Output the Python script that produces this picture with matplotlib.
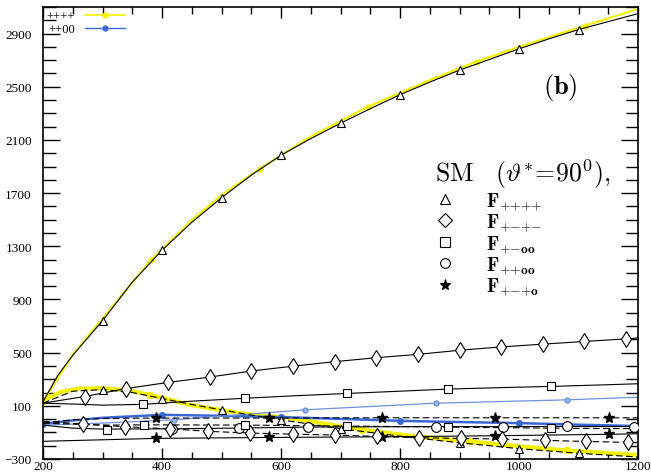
# SM helicity amplitudes F vs energy, two sets (solid / dashed) + two yellow/blue overlays
import matplotlib
matplotlib.use("Agg")
import matplotlib.pyplot as plt
from matplotlib.lines import Line2D
from matplotlib.ticker import MultipleLocator

plt.rcParams['font.family'] = ['Liberation Serif', 'DejaVu Serif']
plt.rcParams['mathtext.fontset'] = 'cm'

# ---- data ----
# solid black, triangles (F++++)
tri_x = [200, 225, 250, 300, 350, 400, 450, 500, 550, 600, 650, 700, 750, 800, 850, 900, 950, 1000, 1050, 1100, 1150, 1200]
tri_y = [130, 330, 480, 740, 1030, 1270, 1480, 1665, 1835, 1985, 2110, 2225, 2335, 2440, 2535, 2625, 2705, 2785, 2860, 2930, 2990, 3050]
tri_mx = [300, 400, 500, 600, 700, 800, 900, 1000, 1100]
tri_my = [740, 1270, 1665, 1985, 2225, 2440, 2625, 2785, 2930]

# dashed black, triangles (falling)
trid_x = [200, 250, 300, 350, 400, 450, 500, 550, 600, 700, 800, 900, 1000, 1100, 1200]
trid_y = [120, 210, 222, 200, 155, 110, 70, 30, -5, -72, -128, -178, -222, -257, -285]
trid_mx = [300, 400, 500, 600, 700, 900, 1000, 1100]
trid_my = [222, 155, 70, -5, -72, -178, -222, -257]

# solid black, diamonds
dia_x = [200, 270, 340, 410, 480, 550, 620, 690, 760, 830, 900, 970, 1040, 1110, 1180, 1200]
dia_y = [120, 170, 230, 276, 316, 362, 398, 432, 462, 487, 518, 543, 564, 584, 604, 610]

# dashed black, diamonds
diad_x = [200, 268, 338, 414, 478, 548, 620, 691, 761, 832, 902, 972, 1043, 1113, 1184, 1200]
diad_y = [-15, -38, -57, -73, -92, -105, -113, -120, -130, -140, -145, -150, -160, -168, -175, -178]

# solid black, squares
sq_x = [200, 260, 300, 368, 450, 540, 620, 711, 800, 881, 970, 1053, 1130, 1200]
sq_y = [120, 112, 105, 111, 135, 157, 175, 193, 210, 226, 237, 246, 256, 266]
sq_mx = [368, 540, 711, 881, 1053]
sq_my = [111, 157, 193, 226, 246]

# dashed black, squares
sqd_x = [200, 308, 369, 540, 711, 881, 1053, 1200]
sqd_y = [-30, -45, -43, -45, -52, -60, -68, -72]
sqd_mx = [308, 369, 540, 711, 881, 1053]
sqd_my = [-80, -43, -45, -52, -60, -68]

# solid black, circles
cir_x = [200, 250, 300, 417, 530, 646, 750, 861, 973, 1081, 1193, 1200]
cir_y = [-45, -68, -75, -73, -67, -60, -58, -56, -57, -55, -56, -57]
cir_mx = [417, 530, 646, 861, 973, 1081, 1193]
cir_my = [-73, -67, -60, -56, -57, -55, -56]

# dashed black, stars
std_x = [200, 250, 300, 390, 580, 770, 960, 1151, 1200]
std_y = [-30, -5, 5, 8, 8, 10, 10, 10, 10]
std_mx = [390, 580, 770, 960, 1151]
std_my = [8, 8, 10, 10, 10]

# solid black, stars
st_x = [200, 390, 580, 770, 960, 1151, 1200]
st_y = [-167, -145, -138, -133, -125, -114, -110]
st_mx = [390, 580, 770, 960, 1151]
st_my = [-145, -138, -133, -125, -114]

# yellow ++++ (rising and falling)
yel_x = [200, 250, 300, 381, 450, 500, 565, 650, 746, 850, 929, 1000, 1111, 1200]
yel_y = [135, 485, 755, 1195, 1495, 1685, 1885, 2125, 2350, 2550, 2690, 2800, 2960, 3085]
yel_mx = [200, 381, 565, 746, 929, 1111]
yel_my = [135, 1195, 1885, 2350, 2690, 2960]
yeld_x = [200, 230, 260, 300, 340, 380, 447, 531, 615, 699, 736, 826, 917, 1001, 1081, 1200]
yeld_y = [140, 205, 230, 232, 218, 182, 107, 45, 8, -52, -79, -130, -168, -205, -236, -270]
yeld_mx = [200, 380, 736, 917, 1081]
yeld_my = [140, 182, -79, -168, -236]

# blue ++00 (thick and thin)
blu_x = [200, 250, 300, 400, 500, 600, 700, 800, 900, 1000, 1100, 1200]
blu_y = [-35, -10, 10, 32, 25, 15, 2, -13, -22, -30, -42, -52]
blu_mx = [200, 400, 600, 800, 1000, 1200]
blu_my = [-35, 32, 15, -13, -30, -52]
blt_x = [200, 300, 420, 640, 861, 1081, 1200]
blt_y = [-45, -30, -5, 70, 120, 145, 165]
blt_mx = [420, 640, 861, 1081]
blt_my = [-5, 70, 120, 145]

top_labels = ['++++', '++00']
sm_title = r'$\mathrm{SM}\ \ \ (\vartheta^{*}\!=\!90^{0}),$'
sm_labels = [r'$\mathbf{F}_{{+}{+}{+}{+}}$', r'$\mathbf{F}_{{+}{-}{+}{-}}$',
             r'$\mathbf{F}_{{+}{-}\mathbf{oo}}$', r'$\mathbf{F}_{{+}{+}\mathbf{oo}}$',
             r'$\mathbf{F}_{{+}{-}{+}\mathbf{o}}$']
sm_markers = ['^', 'D', 's', 'o', '*']

YEL = '#f2f200'
BLUE = '#3a66d6'
BLUE_T = '#6f8fe0'

fig = plt.figure(figsize=(6.51, 4.77), dpi=100)
ax = fig.add_axes([43 / 651, 17 / 477, 595 / 651, 452 / 477])

# yellow / blue overlays
ax.plot(yel_x, yel_y, color=YEL, lw=1.6, zorder=2)
ax.plot(yel_mx, yel_my, 'o', color=YEL, ms=3.5, zorder=2)
ax.plot(yeld_x, yeld_y, color=YEL, lw=3.0, zorder=2)
ax.plot(yeld_mx, yeld_my, 'o', color=YEL, ms=4.5, zorder=2)
ax.plot(blu_x, blu_y, color=BLUE, lw=1.8, zorder=2)
ax.plot(blu_mx, blu_my, 'o', color=BLUE, ms=4, zorder=2)
ax.plot(blt_x, blt_y, color=BLUE_T, lw=0.9, zorder=2)
ax.plot(blt_mx, blt_my, 'o', color=BLUE_T, ms=3.5, mfc='#9fb5ee', zorder=2)

open_kw = dict(ls='none', mfc='white', mec='black', mew=0.8, zorder=4)
# black solid curves
ax.plot(tri_x, tri_y, color='black', lw=0.8, zorder=3)
ax.plot(tri_mx, tri_my, marker='^', ms=6, **open_kw)
ax.plot(dia_x, dia_y, color='black', lw=0.8, zorder=3)
ax.plot(dia_x[1:-1], dia_y[1:-1], marker='d', ms=8, **open_kw)
ax.plot(sq_x, sq_y, color='black', lw=0.8, zorder=3)
ax.plot(sq_mx, sq_my, marker='s', ms=6, **open_kw)
ax.plot(cir_x, cir_y, color='black', lw=0.8, zorder=3)
ax.plot(cir_mx, cir_my, marker='o', ms=7, **open_kw)
ax.plot(st_x, st_y, color='black', lw=0.8, zorder=3)
ax.plot(st_mx, st_my, ls='none', marker='*', ms=8, color='black', zorder=4)

# black dashed curves
dash = (0, (6, 3))
ax.plot(trid_x, trid_y, color='black', lw=0.8, ls=dash, zorder=3)
ax.plot(trid_mx, trid_my, marker='^', ms=6, **open_kw)
ax.plot(diad_x, diad_y, color='black', lw=0.8, ls=dash, zorder=3)
ax.plot(diad_x[1:-1], diad_y[1:-1], marker='d', ms=8, **open_kw)
ax.plot(sqd_x, sqd_y, color='black', lw=0.8, ls=dash, zorder=3)
ax.plot(sqd_mx, sqd_my, marker='s', ms=6, **open_kw)
ax.plot(std_x, std_y, color='black', lw=0.8, ls=dash, zorder=3)
ax.plot(std_mx, std_my, ls='none', marker='*', ms=8, color='black', zorder=4)

ax.set_xlim(200, 1200)
ax.set_ylim(-300, 3100)
ax.xaxis.set_major_locator(MultipleLocator(200))
ax.xaxis.set_minor_locator(MultipleLocator(50))
ax.yaxis.set_minor_locator(MultipleLocator(100))
ax.set_yticks([-300 + 400 * i for i in range(9)])
ax.tick_params(which='both', direction='in', top=True, right=True, labelsize=9.5, width=1.0)
ax.tick_params(axis='x', which='major', length=8, pad=1)
ax.tick_params(axis='x', which='minor', length=5)
ax.tick_params(axis='y', which='major', length=12, pad=8)
ax.tick_params(axis='y', which='minor', length=9)
for s in ax.spines.values():
    s.set_linewidth(1.2)

# small top-left legend
h_top = [Line2D([], [], color=YEL, lw=1.2, marker='o', ms=3.5),
         Line2D([], [], color=BLUE, lw=1.0, marker='o', ms=3.5)]
leg1 = ax.legend(h_top, top_labels, loc='upper left', markerfirst=False, frameon=False,
                 fontsize=9, borderaxespad=0.15, borderpad=0.15, handlelength=3.2,
                 labelspacing=0.05, handletextpad=0.8)
ax.add_artist(leg1)

# SM block
h_sm = [Line2D([], [], ls='none', marker=m, ms=7 if m != '*' else 8,
               mfc='white' if m != '*' else 'black', mec='black', mew=0.8)
        for m in sm_markers]
leg2 = ax.legend(h_sm, sm_labels, title=sm_title, loc='upper left',
                 bbox_to_anchor=(0.643, 0.69), frameon=False, fontsize=14,
                 title_fontsize=18.5, alignment='left', handlelength=1.0,
                 handletextpad=1.6, labelspacing=0.0, borderpad=0.0)

ax.text(1070, 2500, r'$\mathbf{(b)}$', fontsize=19, ha='center', va='center')

fig.savefig('out.png', dpi=100)
